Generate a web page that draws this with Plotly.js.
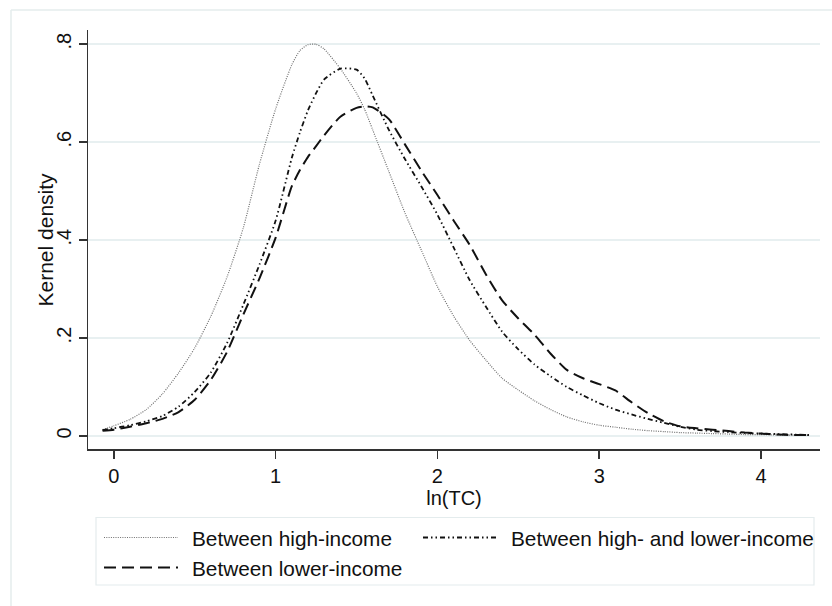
<!DOCTYPE html>
<html>
<head>
<meta charset="utf-8">
<script src="https://cdn.plot.ly/plotly-3.0.1.min.js"></script>
<style>html,body{margin:0;padding:0;background:#fff;}#chart{width:832px;height:606px;}</style>
</head>
<body>
<div id="chart"></div>
<script>
const xGrid = [-0.07,0,0.1,0.2,0.3,0.4,0.5,0.6,0.7,0.8,0.9,1.0,1.1,1.15,1.2,1.25,1.3,1.4,1.5,1.55,1.6,1.7,1.8,1.9,2.0,2.1,2.2,2.3,2.4,2.5,2.6,2.7,2.8,2.9,3.0,3.1,3.2,3.3,3.4,3.5,3.6,3.7,3.8,3.9,4.0,4.1,4.2,4.3];
const highIncome = [0.013,0.021,0.034,0.054,0.086,0.129,0.180,0.245,0.325,0.425,0.555,0.668,0.758,0.787,0.799,0.800,0.790,0.750,0.700,0.667,0.625,0.540,0.455,0.380,0.305,0.245,0.195,0.155,0.118,0.094,0.072,0.054,0.039,0.029,0.022,0.018,0.014,0.011,0.009,0.007,0.006,0.005,0.004,0.003,0.003,0.002,0.002,0.001];
const highLower = [0.012,0.016,0.022,0.030,0.041,0.060,0.090,0.130,0.190,0.268,0.350,0.440,0.568,0.620,0.665,0.700,0.728,0.750,0.748,0.730,0.695,0.625,0.565,0.510,0.452,0.385,0.318,0.264,0.213,0.177,0.146,0.122,0.100,0.083,0.067,0.054,0.044,0.035,0.027,0.019,0.013,0.010,0.008,0.006,0.005,0.004,0.003,0.002];
const lowerIncome = [0.011,0.013,0.019,0.026,0.035,0.049,0.074,0.115,0.172,0.248,0.322,0.405,0.510,0.543,0.570,0.592,0.614,0.652,0.670,0.673,0.671,0.647,0.595,0.542,0.492,0.440,0.390,0.330,0.277,0.240,0.207,0.168,0.135,0.118,0.106,0.093,0.069,0.047,0.030,0.020,0.016,0.013,0.010,0.007,0.005,0.003,0.002,0.002];
const seriesNames = ['Between high-income','Between high- and lower-income','Between lower-income'];
const yTickVals = [0,0.2,0.4,0.6,0.8];
const yTickText = ['0','.2','.4','.6','.8'];
const xTickVals = [0,1,2,3,4];
const xTickText = ['0','1','2','3','4'];
const xTitle = 'ln(TC)';
const yTitle = 'Kernel density';

const W = 832, H = 606;
const M = {l:88, r:12, t:30, b:157};
const pw = W - M.l - M.r, ph = H - M.t - M.b;
const px = x => (x - M.l) / pw;
const py = y => (H - M.b - y) / ph;

const styles = [
  {color:'#707070', width:1.2, dash:'1px,1.3px'},
  {color:'#111111', width:1.8, dash:'5px,3px,1.5px,3px,1.5px,3px'},
  {color:'#111111', width:2, dash:'12px,6px'}
];
const ys = [highIncome, highLower, lowerIncome];
const traces = ys.map((y,i)=>({
  x: xGrid, y: y, type:'scatter', mode:'lines', name: seriesNames[i],
  line: {color: styles[i].color, width: styles[i].width, dash: styles[i].dash, shape:'spline', smoothing:0.6},
  showlegend:false, hoverinfo:'skip'
}));

const font = 'Liberation Sans, Arial, sans-serif';
const frameColor = '#e4eced';
const shapes = [
  {type:'line', xref:'paper', yref:'paper', x0:px(11), x1:px(845), y0:py(10), y1:py(10), line:{color:frameColor,width:1.5}},
  {type:'line', xref:'paper', yref:'paper', x0:px(11), x1:px(11), y0:py(10), y1:py(650), line:{color:frameColor,width:1.5}},
  {type:'rect', xref:'paper', yref:'paper', x0:px(96), x1:px(814), y0:py(517.5), y1:py(585), line:{color:frameColor,width:1.2}, fillcolor:'rgba(0,0,0,0)'}
];
const sampleRows = [[104,178,537.5,190],[423,496,537.5,509],[104,178,567.5,190]];
const annotations = [];
sampleRows.forEach((r,i)=>{
  shapes.push({type:'line', xref:'paper', yref:'paper', x0:px(r[0]), x1:px(r[1]), y0:py(r[2]), y1:py(r[2]),
    line:{color:styles[i].color, width:styles[i].width, dash:styles[i].dash}});
  annotations.push({xref:'paper', yref:'paper', x:px(r[3]), y:py(r[2]+1), xanchor:'left', yanchor:'middle',
    text: seriesNames[i], showarrow:false, font:{family:font, size:20.8, color:'#111'}});
});
annotations.push({xref:'paper', yref:'paper', x:px(45), y:0.5, xanchor:'center', yanchor:'middle', textangle:-90,
  text: yTitle, showarrow:false, font:{family:font, size:21, color:'#111'}});

const layout = {
  width: W, height: H,
  margin: M,
  paper_bgcolor:'#fff', plot_bgcolor:'#fff',
  font:{family:font, size:20, color:'#111'},
  showlegend:false,
  xaxis:{
    range:[-0.16, 4.365], tickvals:xTickVals, ticktext:xTickText,
    showgrid:false, zeroline:false, showline:true, linecolor:'#333', linewidth:1.5,
    ticks:'outside', ticklen:8, tickwidth:1.5, tickcolor:'#333',
    tickfont:{family:font, size:20, color:'#111'},
    title:{text:xTitle, font:{family:font, size:20, color:'#111'}, standoff:0}
  },
  yaxis:{
    range:[-0.0265, 0.829], tickvals:yTickVals, ticktext:yTickText, tickangle:-90,
    showgrid:true, gridcolor:'#e8f0f1', gridwidth:1.5, zeroline:false,
    showline:true, linecolor:'#333', linewidth:1.5,
    ticks:'outside', ticklen:8, tickwidth:1.5, tickcolor:'#333',
    tickfont:{family:font, size:20, color:'#111'}
  },
  shapes: shapes,
  annotations: annotations
};
Plotly.newPlot('chart', traces, layout, {staticPlot:true, displayModeBar:false});
</script>
</body>
</html>
